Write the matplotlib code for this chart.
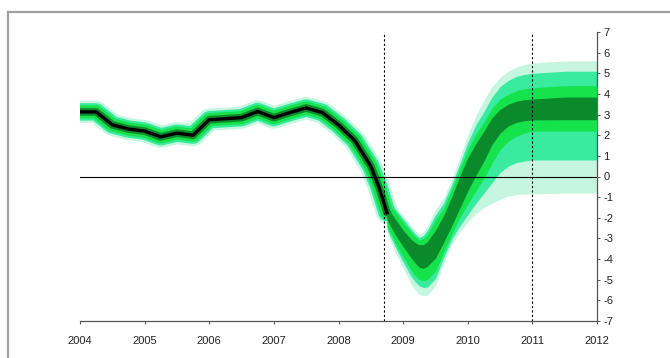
import matplotlib
matplotlib.use("Agg")
from matplotlib import pyplot as plt
from matplotlib.lines import Line2D

plt.rcParams['font.family'] = ['Liberation Sans', 'DejaVu Sans']

# history (quarterly, last points denser)
hist_t = [2004.0, 2004.25, 2004.5, 2004.75, 2005.0, 2005.25, 2005.5, 2005.75,
          2006.0, 2006.25, 2006.5, 2006.75, 2007.0, 2007.25, 2007.5, 2007.75,
          2008.0, 2008.25, 2008.5, 2008.625, 2008.75]
hist_v = [3.13, 3.13, 2.5, 2.3, 2.2, 1.92, 2.1, 2.0,
          2.75, 2.8, 2.85, 3.15, 2.85, 3.1, 3.32, 3.1,
          2.5, 1.75, 0.5, -0.5, -1.75]

# forecast fan: band edges (lower, upper)
fan_t = [2008.75, 2008.875, 2009.0, 2009.125, 2009.1875, 2009.25, 2009.3125, 2009.375,
         2009.5, 2009.625, 2009.75, 2009.875, 2010.0, 2010.125, 2010.25, 2010.375,
         2010.5, 2010.625, 2010.75, 2010.875, 2011.0, 2011.5, 2012.0]
dark_lo = [-2.1, -2.8, -3.4, -3.95, -4.2, -4.4, -4.45, -4.35,
           -3.95, -3.2, -2.4, -1.55, -0.7, 0.05, 0.75, 1.55,
           2.1, 2.45, 2.62, 2.7, 2.74, 2.75, 2.75]
dark_hi = [-1.45, -2.05, -2.6, -3.05, -3.2, -3.3, -3.3, -3.15,
           -2.6, -1.9, -1.0, 0.0, 0.9, 1.6, 2.2, 2.85,
           3.25, 3.5, 3.65, 3.72, 3.75, 3.85, 3.85]
bright_lo = [-2.4, -3.2, -3.9, -4.55, -4.8, -5.0, -5.05, -5.0,
             -4.6, -3.7, -2.8, -2.0, -1.35, -0.7, -0.1, 0.65,
             1.3, 1.7, 1.95, 2.1, 2.2, 2.2, 2.2]
bright_hi = [-1.15, -1.7, -2.2, -2.7, -2.92, -3.08, -3.0, -2.8,
             -2.1, -1.55, -0.65, 0.35, 1.3, 2.05, 2.65, 3.3,
             3.75, 3.98, 4.15, 4.25, 4.3, 4.4, 4.4]
aqua_lo = [-2.55, -3.4, -4.15, -4.85, -5.1, -5.3, -5.38, -5.35,
           -4.95, -3.95, -3.05, -2.4, -1.85, -1.3, -0.8, -0.3,
           0.2, 0.5, 0.67, 0.75, 0.8, 0.8, 0.8]
aqua_hi = [-1.0, -1.55, -2.05, -2.55, -2.78, -2.95, -2.85, -2.6,
           -1.85, -1.3, -0.4, 0.6, 1.65, 2.5, 3.15, 3.85,
           4.35, 4.65, 4.85, 4.95, 5.0, 5.1, 5.1]
pale_lo = [-2.75, -3.65, -4.45, -5.2, -5.5, -5.7, -5.78, -5.75,
           -5.3, -4.2, -3.3, -2.7, -2.2, -1.8, -1.5, -1.3,
           -1.1, -0.95, -0.87, -0.85, -0.85, -0.8, -0.8]
pale_hi = [-0.85, -1.4, -1.9, -2.4, -2.62, -2.8, -2.68, -2.4,
           -1.6, -1.05, -0.15, 0.9, 2.0, 2.95, 3.7, 4.35,
           4.8, 5.1, 5.3, 5.42, 5.5, 5.6, 5.6]

vlines = [2008.71, 2011.0]
years = list(range(2004, 2013))
yticks = list(range(-7, 8))

PALE = "#c6f6df"
AQUA = "#38eb9f"
BRIGHT = "#16e24c"
DARK = "#0b8a2b"

fig = plt.figure(figsize=(6.7, 3.58), dpi=100)
ax = fig.add_axes([80 / 670, 1 - 321 / 358, 517 / 670, 289 / 358])

layers = [(PALE, pale_lo, pale_hi, 16),
          (AQUA, aqua_lo, aqua_hi, 12.5),
          (BRIGHT, bright_lo, bright_hi, 9.5),
          (DARK, dark_lo, dark_hi, 5.5)]
for z, (col, lo, hi, lw) in enumerate(layers):
    ax.plot(hist_t, hist_v, color=col, lw=lw, solid_capstyle="round",
            solid_joinstyle="round", zorder=1 + z)
    ax.fill_between(fan_t, lo, hi, color=col, lw=0, zorder=1 + z)

ax.plot(hist_t, hist_v, color="black", lw=2.4, solid_joinstyle="round", zorder=6)

ax.axhline(0, color="black", lw=0.8, zorder=7)
for v in vlines:
    ax.axvline(v, color="black", lw=0.8, ls=(0, (2, 2)), zorder=7)

ax.set_xlim(2004, 2012)
ax.set_ylim(-7, 7)
ax.set_xticks(years)
ax.set_xticklabels([str(y) for y in years])
ax.set_yticks(yticks)
ax.set_yticklabels([str(y) for y in yticks])

ax.spines["left"].set_visible(False)
ax.spines["top"].set_visible(False)
for s in ("bottom", "right"):
    ax.spines[s].set_color("#555555")
    ax.spines[s].set_linewidth(0.9)
ax.yaxis.tick_right()
ax.tick_params(axis="x", length=2.5, width=0.7, color="#555555", pad=8,
               labelsize=8, labelcolor="#222222")
ax.tick_params(axis="y", length=2.5, width=0.7, color="#555555", pad=2,
               labelsize=8, labelcolor="#222222")

# outer frame of the picture
fig.add_artist(Line2D([8 / 670, 8 / 670], [0, 1 - 12 / 358], transform=fig.transFigure,
                      color="#a0a0a0", lw=1.6))
fig.add_artist(Line2D([8 / 670, 1], [1 - 12 / 358, 1 - 12 / 358], transform=fig.transFigure,
                      color="#a0a0a0", lw=1.6))

fig.savefig("out.png", dpi=100)
